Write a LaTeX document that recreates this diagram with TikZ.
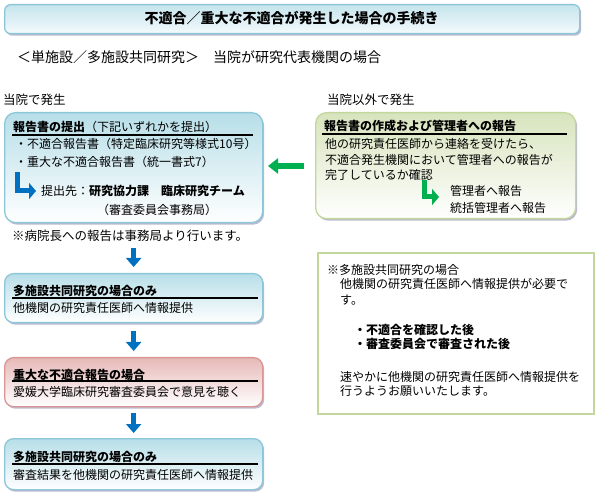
\documentclass[tikz,border=0pt]{standalone}
\usepackage{fontspec}
\setmainfont{Noto Sans CJK JP}
\usetikzlibrary{arrows.meta,shadows}
\definecolor{btop}{HTML}{B7DEE8}
\definecolor{bborder}{HTML}{8CC6D8}
\definecolor{ptop}{HTML}{E6B9B8}
\definecolor{pborder}{HTML}{D99694}
\definecolor{gtop}{HTML}{D7E4BD}
\definecolor{gborder}{HTML}{C3D69B}
\definecolor{arrowblue}{HTML}{0070C0}
\definecolor{arrowgreen}{HTML}{00B050}
\tikzset{
  txt/.style={anchor=west, inner sep=0pt, font=\fontsize{12}{14}\selectfont},
  hd/.style={anchor=west, inner sep=0pt, font=\fontsize{12}{14}\selectfont\bfseries},
  shad/.style={drop shadow={shadow xshift=1.5pt, shadow yshift=-2pt, opacity=0.45, fill=gray!80!blue}},
  bluebox/.style={anchor=north west, inner sep=0pt, rounded corners=9pt, draw=bborder, line width=1.3pt, top color=btop, bottom color=white, shad},
  pinkbox/.style={anchor=north west, inner sep=0pt, rounded corners=9pt, draw=pborder, line width=1.3pt, top color=ptop, bottom color=white, shad},
  greenbox/.style={anchor=north west, inner sep=0pt, rounded corners=11pt, draw=gborder, line width=1.3pt, top color=gtop, bottom color=white, shad},
  notebox/.style={anchor=north west, inner sep=0pt, draw=gborder, line width=2pt, fill=white},
  uline/.style={draw=black, line width=1.2pt},
  barrow/.style={draw=arrowblue, line width=4.5pt, -{Triangle[width=15pt,length=9pt,fill=arrowblue]}},
  garrow/.style={draw=arrowgreen, line width=6pt, -{Triangle[width=15pt,length=10pt,fill=arrowgreen]}},
  lbarrow/.style={draw=arrowblue, line width=5pt, line join=miter, -{Triangle[width=16pt,length=7pt,fill=arrowblue]}},
  lgarrow/.style={draw=arrowgreen, line width=5pt, line join=miter, -{Triangle[width=16pt,length=7pt,fill=arrowgreen]}}
}
\begin{document}
\begin{tikzpicture}[x=1pt,y=-1pt]
\useasboundingbox (0,0) rectangle (600,494);
% title
\node[bluebox, rounded corners=6pt, minimum width=575pt, minimum height=29pt, top color=btop!80, bottom color=btop!15] (title) at (4,4) {};
\node[hd, anchor=center, font=\fontsize{14}{16}\selectfont\bfseries] (ttext) at (291.5,18.5) {不適合／重大な不適合が発生した場合の手続き};
\node[txt, font=\fontsize{14}{16}\selectfont] (sub) at (17,57) {＜単施設／多施設共同研究＞　当院が研究代表機関の場合};
\node[txt, font=\fontsize{12.5}{14}\selectfont] (lab1) at (3,100) {当院で発生};
\node[txt, font=\fontsize{12.5}{14}\selectfont] (lab2) at (327,100) {当院以外で発生};
% left box 1
\node[bluebox, rounded corners=11pt, minimum width=258pt, minimum height=110pt] (b1) at (4,112) {};
\node[txt] (h1) at (13,127) {\textbf{報告書の提出}（下記いずれかを提出）};
\coordinate (u1a) at (12,135); \coordinate (u1b) at (253,135);
\draw[uline] (u1a) -- (u1b);
\node[txt] (l11) at (15,144) {・不適合報告書（特定臨床研究等様式10号）};
\node[txt] (l12) at (15,162) {・重大な不適合報告書（統一書式7）};
\coordinate (lb1) at (17.5,172); \coordinate (lb2) at (36,191);
\draw[lbarrow] (lb1) |- (lb2);
\node[txt] (l13) at (41,191) {提出先：\textbf{研究協力課　臨床研究チーム}};
\node[txt] (l14) at (97,210) {（審査委員会事務局）};
\node[txt, font=\fontsize{12.5}{14}\selectfont] (n1) at (12,236) {※病院長への報告は事務局より行います。};
% right box
\node[greenbox, minimum width=260pt, minimum height=106pt] (rb) at (315,112) {};
\node[hd] (h2) at (324,126) {報告書の作成および管理者への報告};
\coordinate (u2a) at (322,134); \coordinate (u2b) at (567,134);
\draw[uline] (u2a) -- (u2b);
\node[txt] (r1) at (325,144) {他の研究責任医師から連絡を受けたら、};
\node[txt] (r2) at (325,160) {不適合発生機関において管理者への報告が};
\node[txt] (r3) at (325,175) {完了しているか確認};
\coordinate (lg1) at (424,180); \coordinate (lg2) at (439,197);
\draw[lgarrow] (lg1) |- (lg2);
\node[txt] (r4) at (450,191) {管理者へ報告};
\node[txt] (r5) at (450,208) {統括管理者へ報告};
% green arrow
\coordinate (g1) at (304,166); \coordinate (g2) at (268,166);
\draw[garrow] (g1) -- (g2);
% box 2
\node[bluebox, minimum width=258pt, minimum height=49pt] (b2) at (4,273) {};
\node[hd] (h3) at (13,291) {多施設共同研究の場合のみ};
\coordinate (u3a) at (12,298); \coordinate (u3b) at (258,298);
\draw[uline] (u3a) -- (u3b);
\node[txt] (t3) at (13,308) {他機関の研究責任医師へ情報提供};
% box 3
\node[pinkbox, minimum width=258pt, minimum height=49pt] (b3) at (4,357) {};
\node[hd] (h4) at (13,375) {重大な不適合報告の場合};
\coordinate (u4a) at (12,381); \coordinate (u4b) at (258,381);
\draw[uline] (u4a) -- (u4b);
\node[txt] (t4) at (13,392) {愛媛大学臨床研究審査委員会で意見を聴く};
% box 4
\node[bluebox, minimum width=258pt, minimum height=51pt] (b4) at (4,438) {};
\node[hd] (h5) at (13,457) {多施設共同研究の場合のみ};
\coordinate (u5a) at (12,464); \coordinate (u5b) at (258,464);
\draw[uline] (u5a) -- (u5b);
\node[txt] (t5) at (13,475) {審査結果を他機関の研究責任医師へ情報提供};
% down arrows
\draw[barrow] ([yshift=-25pt]b1.south) -- ([yshift=6pt]b2.north);
\draw[barrow] ([yshift=-8pt]b2.south) -- ([yshift=6pt]b3.north);
\draw[barrow] ([yshift=-6pt]b3.south) -- ([yshift=5pt]b4.north);
% note box
\node[notebox, minimum width=276pt, minimum height=161pt] (nb) at (317,252) {};
\node[txt] (m1) at (327,270) {※多施設共同研究の場合};
\node[txt] (m2) at (340,284) {他機関の研究責任医師へ情報提供が必要で};
\node[txt] (m3) at (340,300) {す。};
\node[hd] (m4) at (354,330) {・不適合を確認した後};
\node[hd] (m5) at (354,344) {・審査委員会で審査された後};
\node[txt] (m6) at (340,377) {速やかに他機関の研究責任医師へ情報提供を};
\node[txt] (m7) at (340,391) {行うようお願いいたします。};
\end{tikzpicture}
\end{document}
